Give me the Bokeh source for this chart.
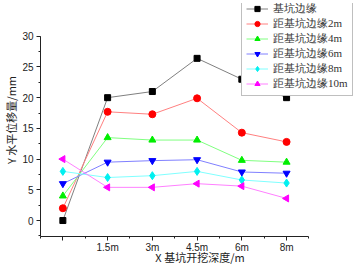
import math
from bokeh.plotting import figure
from bokeh.models import Range1d, FixedTicker, SingleIntervalTicker, Legend
from bokeh.embed import file_html
from bokeh.resources import INLINE

# ---- data ----
x_labels = ["", "1.5m", "3m", "4.5m", "6m", "8m"]
series_names = ["基坑边缘", "距基坑边缘2m", "距基坑边缘4m", "距基坑边缘6m", "距基坑边缘8m", "距基坑边缘10m"]
edge_0m = [0.0, 20.0, 21.0, 26.4, 23.0, 20.0]
edge_2m = [2.0, 17.7, 17.3, 19.9, 14.3, 12.8]
edge_4m = [4.0, 13.5, 13.1, 13.1, 9.8, 9.5]
edge_6m = [6.0, 9.5, 9.75, 9.9, 7.9, 7.7]
edge_8m = [8.0, 7.0, 7.3, 8.0, 6.6, 6.1]
edge_10m = [10.0, 5.4, 5.4, 6.0, 5.6, 3.6]

# ---- styles ----
marker_colors = ["#000000", "#ff0000", "#00ee00", "#0000ff", "#00f0f0", "#ff00ff"]
line_colors = ["#808080", "#ff8080", "#80ff80", "#8080ff", "#80ffff", "#ff80ff"]
markers = ["square", "circle", "triangle", "inverted_triangle", "diamond", "triangle"]
angles = [0, 0, 0, 0, 0, math.pi / 2]
sizes = [6, 7, 7, 7, 8, 7]

xs = list(range(len(x_labels)))
all_series = [edge_0m, edge_2m, edge_4m, edge_6m, edge_8m, edge_10m]

p = figure(width=359, height=267, output_backend="svg", toolbar_location=None,
           x_range=Range1d(-0.5, 6.63), y_range=Range1d(-2.6, 35.33),
           min_border_left=35, min_border_right=0, min_border_top=3, min_border_bottom=29)
p.outline_line_color = None
p.xgrid.visible = False
p.ygrid.visible = False
p.background_fill_color = "white"
p.border_fill_color = "white"

items = []
for i, ys in enumerate(all_series):
    r1 = p.line(xs, ys, line_color=line_colors[i], line_width=1)
    r2 = p.scatter(xs, ys, marker=markers[i], size=sizes[i], angle=angles[i],
                   fill_color=marker_colors[i], line_color=marker_colors[i])
    items.append((series_names[i], [r1, r2]))

legend = Legend(items=items, location=(201, 140))
legend.border_line_color = "#808080"
legend.border_line_width = 1
legend.background_fill_alpha = 1
legend.label_text_font = "Liberation Serif"
legend.label_text_font_size = "11px"
legend.label_text_color = "#333333"
legend.spacing = 0
legend.padding = 4
legend.margin = 0
legend.label_height = 13
legend.glyph_height = 13
legend.glyph_width = 22
legend.label_standoff = 5
p.add_layout(legend, "center")

# axes
xax = p.xaxis[0]
xax.ticker = FixedTicker(ticks=xs, minor_ticks=[x + 0.5 for x in [-1] + xs])
xax.major_label_overrides = {i: lab for i, lab in enumerate(x_labels)}
xax.bounds = (-0.5, 5.5)
yax = p.yaxis[0]
yax.ticker = SingleIntervalTicker(interval=5, num_minor_ticks=2)
yax.bounds = (-2.6, 30)

for ax in (xax, yax):
    ax.axis_line_color = "#222222"
    ax.major_tick_line_color = "#222222"
    ax.minor_tick_line_color = "#222222"
    ax.major_tick_out = 4
    ax.major_tick_in = 0
    ax.minor_tick_out = 2
    ax.minor_tick_in = 0
    ax.major_label_text_font = "Liberation Sans"
    ax.major_label_text_font_size = "10px"
    ax.major_label_text_color = "#222222"
    ax.axis_label_text_font = "Noto Sans CJK SC"
    ax.axis_label_text_font_size = "11px"
    ax.axis_label_text_font_style = "normal"
    ax.axis_label_text_color = "#222222"

xax.axis_label = "X 基坑开挖深度/m"
yax.axis_label = "Y 水平位移量/mm"
xax.major_label_standoff = 1
xax.axis_label_standoff = -7
yax.major_label_standoff = 3
yax.axis_label_standoff = 0

open("out.html", "w").write(file_html(p, INLINE))
